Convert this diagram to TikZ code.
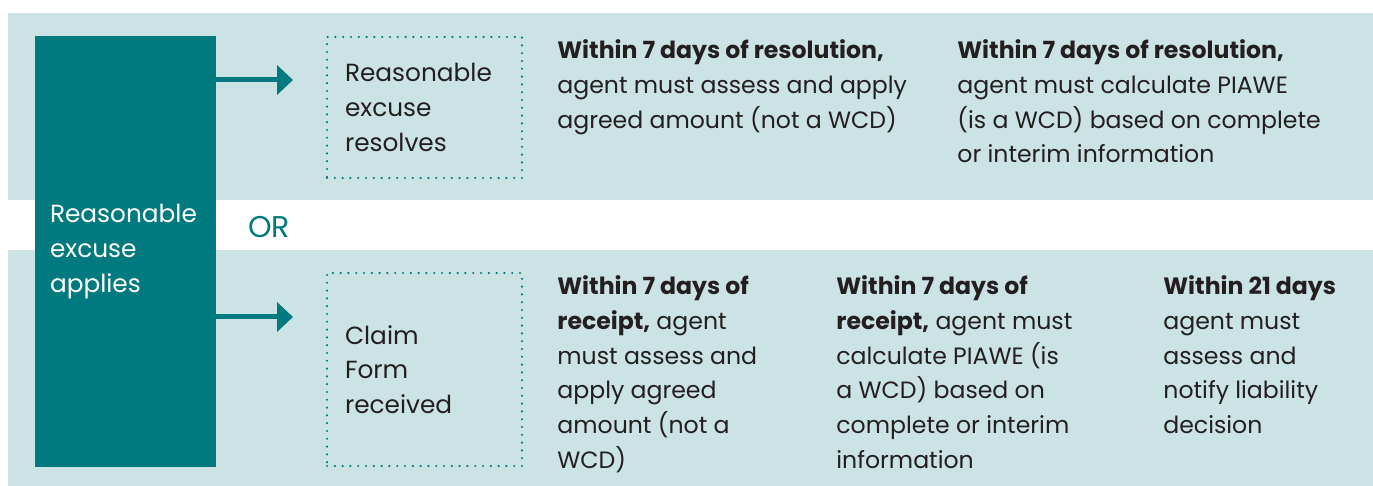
\documentclass[tikz,border=0pt]{standalone}
\usepackage{fontspec}
\setmainfont{Poppins}
\usetikzlibrary{arrows.meta, positioning}

\definecolor{wcteal}{HTML}{007A7E}
\definecolor{wcband}{HTML}{CCE3E5}
\definecolor{wctext}{HTML}{231F20}
\newcommand{\mainsize}{\fontsize{11.8}{17.35}\selectfont}
\newcommand{\boxsize}{\fontsize{12.4}{17.35}\selectfont}

\begin{document}
\begin{tikzpicture}[
        x=0.5pt, y=-0.5pt,
        excuse/.style={rectangle, fill=wcteal, text=white,
                       minimum width=90.5pt, minimum height=215.5pt,
                       text width=75.5pt, inner xsep=7.5pt, align=left,
                       font=\boxsize},
        event/.style={rectangle, draw=wcteal, line width=1.2pt,
                      dash pattern=on 0pt off 3.9pt, line cap=round,
                      minimum width=97.5pt, text width=79.5pt, inner xsep=9pt,
                      align=left, font=\boxsize, text=wctext},
        rule/.style={anchor=north west, inner sep=0pt, align=left,
                     font=\mainsize, text=wctext},
        arr/.style={-{Triangle[length=8pt, width=14.5pt]}, wcteal, line width=2.5pt}
    ]
        \useasboundingbox (0,0) rectangle (1373,486);
        % the two shaded rows
        \fill[wcband] (8,13) rectangle (1373,200);
        \fill[wcband] (8,250) rectangle (1373,486);

        \node[excuse] (excuse) at (125.5,251.5) {Reasonable\\excuse\\applies};
        \node[event, minimum height=70.5pt] (resolves) at (424.5,107.5) {Reasonable\\excuse\\resolves};
        \node[event, minimum height=96.5pt] (received) at (424.5,369.5) {Claim\\Form\\received};

        \coordinate (tipA) at (293,80);
        \coordinate (tipB) at (293,317);
        \draw[arr] (excuse.east |- tipA) -- (tipA);
        \draw[arr] (excuse.east |- tipB) -- (tipB);

        \node[anchor=base west, inner sep=0pt, font=\fontsize{15}{18}\selectfont, text=wcteal] (or) at (248,238) {OR};

        % time limits after the excuse resolves
        \node[rule] (assessA) at (557,39.5) {\textbf{Within 7 days of resolution,}\\agent must assess and apply\\agreed amount (not a WCD)};
        \node[rule] (piaweA) at (957,39.5) {\textbf{Within 7 days of resolution,}\\agent must calculate PIAWE\\(is a WCD) based on complete\\or interim information};

        % time limits after the claim form arrives
        \node[rule] (assessB) at (557,275.5) {\textbf{Within 7 days of}\\\textbf{receipt,} agent\\must assess and\\apply agreed\\amount (not a\\WCD)};
        \node[rule] (piaweB) at (836,275.5) {\textbf{Within 7 days of}\\\textbf{receipt,} agent must\\calculate PIAWE (is\\a WCD) based on\\complete or interim\\information};
        \node[rule] (liability) at (1163,275.5) {\textbf{Within 21 days}\\agent must\\assess and\\notify liability\\decision};
    \end{tikzpicture}
\end{document}
